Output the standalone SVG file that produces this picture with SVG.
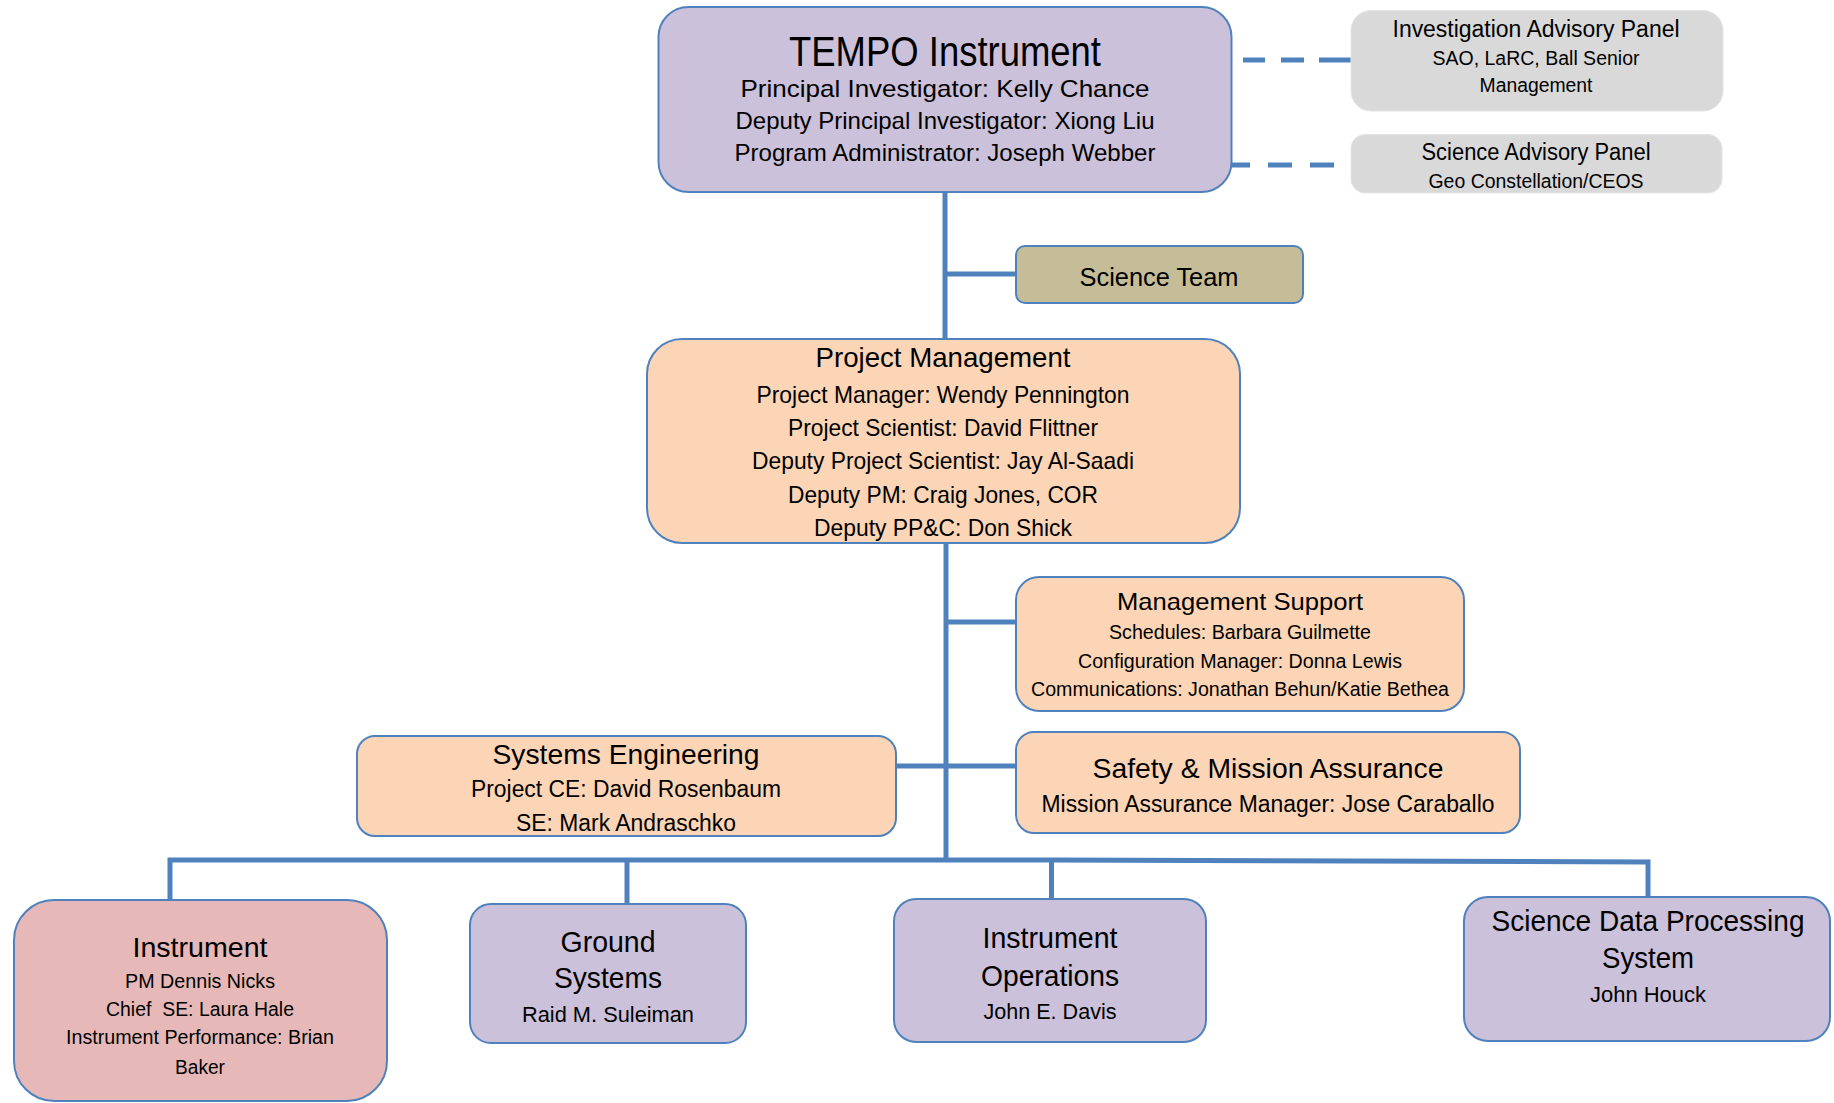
<svg xmlns="http://www.w3.org/2000/svg" width="1834" height="1103" viewBox="0 0 1834 1103">
<style>
.box{stroke:#4f81bd;stroke-width:2}
.purple{fill:#ccc1da}
.peach{fill:#fbd5b5}
.gray{fill:#d9d9d9;stroke:#e4e4e4;stroke-width:1}
.olive{fill:#c4bd97}
.pink{fill:#e6b9b8}
text{font-family:"Liberation Sans Narrow","Liberation Sans",Arial,sans-serif;fill:#000;text-anchor:middle}
.conn{stroke:#4f81bd;stroke-width:5;fill:none}
</style>
<rect width="1834" height="1103" fill="#fff"/>
<g id="connectors">
<path class="conn" d="M1243 60 H1265 M1281 60 H1304 M1319 60 H1351"/>
<path class="conn" d="M1232 165 H1250 M1268 165 H1292 M1310 165 H1334"/>
<line class="conn" x1="945" y1="192" x2="945" y2="339"/>
<line class="conn" x1="945" y1="274" x2="1016" y2="274"/>
<line class="conn" x1="946" y1="543" x2="946" y2="861"/>
<line class="conn" x1="946" y1="622" x2="1016" y2="622"/>
<line class="conn" x1="896" y1="766" x2="1016" y2="766"/>
<polyline class="conn" points="170,900 170,860 1051.5,860 1648,862 1648,898"/>
<line class="conn" x1="627" y1="860" x2="627" y2="904"/>
<line class="conn" x1="1051.5" y1="860" x2="1051.5" y2="899"/>
</g>
<g id="tempo">
<rect class="box purple" x="658.5" y="7" width="573" height="185" rx="30"/>
<text x="945" y="66" font-size="42" textLength="312" lengthAdjust="spacingAndGlyphs">TEMPO Instrument</text>
<text x="945" y="97" font-size="24" textLength="409" lengthAdjust="spacingAndGlyphs">Principal Investigator: Kelly Chance</text>
<text x="945" y="129" font-size="24" textLength="419" lengthAdjust="spacingAndGlyphs">Deputy Principal Investigator: Xiong Liu</text>
<text x="945" y="161" font-size="24" textLength="421" lengthAdjust="spacingAndGlyphs">Program Administrator: Joseph Webber</text>
</g>
<g id="investigation-advisory-panel">
<rect class="gray" x="1351" y="10.5" width="372" height="100.5" rx="20"/>
<text x="1536" y="37" font-size="23" textLength="287" lengthAdjust="spacingAndGlyphs">Investigation Advisory Panel</text>
<text x="1536" y="65" font-size="20" textLength="207" lengthAdjust="spacingAndGlyphs">SAO, LaRC, Ball Senior</text>
<text x="1536" y="92" font-size="20" textLength="113" lengthAdjust="spacingAndGlyphs">Management</text>
</g>
<g id="science-advisory-panel">
<rect class="gray" x="1351" y="134.5" width="371" height="58.5" rx="14"/>
<text x="1536" y="160" font-size="23" textLength="229" lengthAdjust="spacingAndGlyphs">Science Advisory Panel</text>
<text x="1536" y="188" font-size="20" textLength="215" lengthAdjust="spacingAndGlyphs">Geo Constellation/CEOS</text>
</g>
<g id="science-team">
<rect class="box olive" x="1016" y="246" width="287" height="57" rx="9"/>
<text x="1159" y="286" font-size="25" textLength="159" lengthAdjust="spacingAndGlyphs">Science Team</text>
</g>
<g id="project-management">
<rect class="box peach" x="647" y="339" width="593" height="204" rx="35"/>
<text x="943" y="367" font-size="28" textLength="255" lengthAdjust="spacingAndGlyphs">Project Management</text>
<text x="943" y="403" font-size="24" textLength="373" lengthAdjust="spacingAndGlyphs">Project Manager: Wendy Pennington</text>
<text x="943" y="436" font-size="24" textLength="310" lengthAdjust="spacingAndGlyphs">Project Scientist: David Flittner</text>
<text x="943" y="469" font-size="24" textLength="382" lengthAdjust="spacingAndGlyphs">Deputy Project Scientist: Jay Al-Saadi</text>
<text x="943" y="503" font-size="24" textLength="310" lengthAdjust="spacingAndGlyphs">Deputy PM: Craig Jones, COR</text>
<text x="943" y="536" font-size="24" textLength="258" lengthAdjust="spacingAndGlyphs">Deputy PP&amp;C: Don Shick</text>
</g>
<g id="management-support">
<rect class="box peach" x="1016" y="577" width="448" height="134" rx="23"/>
<text x="1240" y="610" font-size="24" textLength="246" lengthAdjust="spacingAndGlyphs">Management Support</text>
<text x="1240" y="639" font-size="20" textLength="262" lengthAdjust="spacingAndGlyphs">Schedules: Barbara Guilmette</text>
<text x="1240" y="668" font-size="20" textLength="324" lengthAdjust="spacingAndGlyphs">Configuration Manager: Donna Lewis</text>
<text x="1240" y="696" font-size="20" textLength="418" lengthAdjust="spacingAndGlyphs">Communications: Jonathan Behun/Katie Bethea</text>
</g>
<g id="systems-engineering">
<rect class="box peach" x="357" y="736" width="539" height="100" rx="18"/>
<text x="626" y="764" font-size="28" textLength="267" lengthAdjust="spacingAndGlyphs">Systems Engineering</text>
<text x="626" y="797" font-size="23.5" textLength="310" lengthAdjust="spacingAndGlyphs">Project CE: David Rosenbaum</text>
<text x="626" y="831" font-size="23.5" textLength="220" lengthAdjust="spacingAndGlyphs">SE: Mark Andraschko</text>
</g>
<g id="safety-mission-assurance">
<rect class="box peach" x="1016" y="732" width="504" height="101" rx="18"/>
<text x="1268" y="778" font-size="28" textLength="351" lengthAdjust="spacingAndGlyphs">Safety &amp; Mission Assurance</text>
<text x="1268" y="812" font-size="23.5" textLength="453" lengthAdjust="spacingAndGlyphs">Mission Assurance Manager: Jose Caraballo</text>
</g>
<g id="instrument">
<rect class="box pink" x="14" y="900" width="373" height="201" rx="40"/>
<text x="200" y="957" font-size="28" textLength="135" lengthAdjust="spacingAndGlyphs">Instrument</text>
<text x="200" y="988" font-size="20" textLength="150" lengthAdjust="spacingAndGlyphs">PM Dennis Nicks</text>
<text x="200" y="1016" font-size="20" textLength="188" lengthAdjust="spacingAndGlyphs" xml:space="preserve">Chief  SE: Laura Hale</text>
<text x="200" y="1044" font-size="20" textLength="268" lengthAdjust="spacingAndGlyphs">Instrument Performance: Brian</text>
<text x="200" y="1074" font-size="20" textLength="50" lengthAdjust="spacingAndGlyphs">Baker</text>
</g>
<g id="ground-systems">
<rect class="box purple" x="470" y="904" width="276" height="139" rx="21"/>
<text x="608" y="952" font-size="30" textLength="95" lengthAdjust="spacingAndGlyphs">Ground</text>
<text x="608" y="988" font-size="30" textLength="108" lengthAdjust="spacingAndGlyphs">Systems</text>
<text x="608" y="1022" font-size="22" textLength="172" lengthAdjust="spacingAndGlyphs">Raid M. Suleiman</text>
</g>
<g id="instrument-operations">
<rect class="box purple" x="894" y="899" width="312" height="143" rx="22"/>
<text x="1050" y="948" font-size="30" textLength="135" lengthAdjust="spacingAndGlyphs">Instrument</text>
<text x="1050" y="986" font-size="30" textLength="138" lengthAdjust="spacingAndGlyphs">Operations</text>
<text x="1050" y="1019" font-size="22" textLength="133" lengthAdjust="spacingAndGlyphs">John E. Davis</text>
</g>
<g id="science-data-processing-system">
<rect class="box purple" x="1464" y="897" width="366" height="144" rx="24"/>
<text x="1648" y="931" font-size="30" textLength="313" lengthAdjust="spacingAndGlyphs">Science Data Processing</text>
<text x="1648" y="968" font-size="30" textLength="92" lengthAdjust="spacingAndGlyphs">System</text>
<text x="1648" y="1002" font-size="22" textLength="116" lengthAdjust="spacingAndGlyphs">John Houck</text>
</g>
</svg>
